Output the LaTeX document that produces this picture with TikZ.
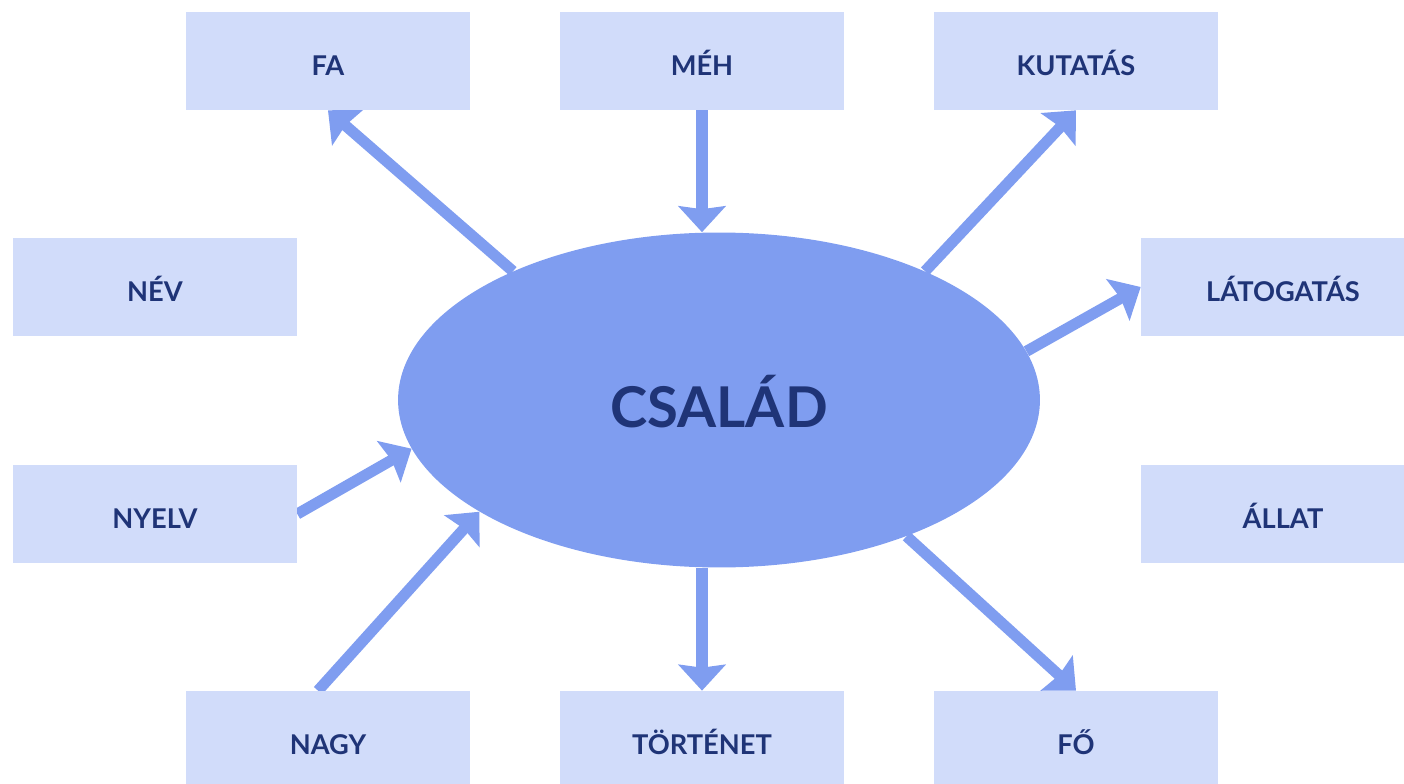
\documentclass[tikz,border=0pt]{standalone}
\usepackage{fontspec}
\setmainfont{Lato}
\usetikzlibrary{arrows.meta,shapes.geometric,backgrounds}
\definecolor{boxc}{HTML}{D1DCFA}
\definecolor{ellc}{HTML}{7F9DF0}
\definecolor{txtc}{HTML}{1F3477}
\begin{document}
\begin{tikzpicture}[x=0.02cm,y=-0.02cm,
 box/.style={fill=boxc, minimum width=5.68cm, minimum height=1.96cm, inner sep=0pt, text=txtc,
   font=\bfseries\fontsize{15.5}{17}\selectfont, text height=16pt, text depth=0pt},
 hub/.style={ellipse, fill=ellc, minimum width=12.84cm, minimum height=6.7cm, inner sep=0pt, text=txtc,
   font=\bfseries\fontsize{32}{35}\selectfont, text height=31pt, text depth=0pt},
 arr/.style={draw=ellc, line width=6.3pt, -{Stealth[length=0.52cm,width=0.94cm,inset=0.06cm]}}]
\useasboundingbox (0,0) rectangle (1404,784);
\clip (0,0) rectangle (1404,784);
\node[box] (fa) at (328,61) {FA};
\node[box] (meh) at (702,61) {MÉH};
\node[box] (kut) at (1076,61) {KUTATÁS};
\node[box] (nev) at (155,287) {NÉV};
\node[box] (lat) at (1283,287) {LÁTOGATÁS};
\node[box] (nyelv) at (155,514) {NYELV};
\node[box] (allat) at (1283,514) {ÁLLAT};
\node[box] (nagy) at (328,740) {NAGY};
\node[box] (tort) at (702,740) {TÖRTÉNET};
\node[box] (fo) at (1076,740) {FŐ};
\node[hub] (cs) at (719,400) {CSALÁD};
\begin{pgfonlayer}{background}
\draw[arr] (cs.148.5) -- (fa.south);
\draw[arr] (meh.south) -- (meh.south |- cs.north);
\draw[arr] (cs.32.6) -- (kut.south);
\draw[arr] (cs.9.7) -- (lat.west);
\draw[arr] (nyelv.east) -- (cs.189.3);
\draw[arr] ([xshift=-0.2cm]nagy.north) -- (cs.205.8);
\draw[arr] (cs.south -| tort.north) -- (tort.north);
\draw[arr] (cs.-36.9) -- (fo.north);
\end{pgfonlayer}
\end{tikzpicture}
\end{document}
